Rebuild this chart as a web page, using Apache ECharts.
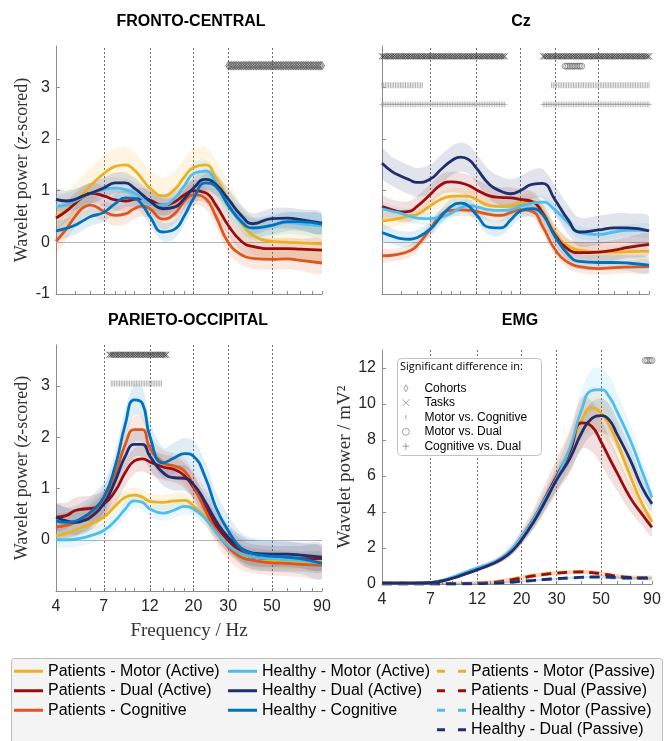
<!DOCTYPE html>
<html>
<head>
<meta charset="utf-8">
<script src="https://cdn.jsdelivr.net/npm/echarts@6/dist/echarts.min.js"></script>
<style>
  html, body { margin: 0; padding: 0; background: #fff; }
  #chart { width: 664px; height: 741px; }
</style>
</head>
<body>
<div id="chart"></div>
<script>
// frequency grid (Hz) the curves were read at
const freqs = [4, 4.5, 5, 5.5, 6, 7, 8, 9, 10, 11, 12, 14, 16, 18, 20, 23, 26, 30, 35, 40, 50, 60, 70, 90];
const emgFreqs = [4, 5, 6, 7, 8, 9, 10, 12, 14, 16, 18, 20, 23, 26, 30, 35, 40, 45, 50, 55, 60, 70, 80, 90];

// x axis ticks
const xLabelTicks = [4, 7, 12, 20, 30, 50, 90];
const xMinorTicks = [4, 5, 6, 7, 8, 9, 10, 12, 14, 16, 18, 20, 30, 40, 50, 60, 70, 80, 90];
const bandLines = [7, 12, 20, 30, 50];

// FRONTO-CENTRAL (z-scored)
const fcPatMotor = [0.5, 0.62, 0.78, 0.95, 1.1, 1.33, 1.47, 1.5, 1.4, 1.22, 1.05, 0.9, 1.02, 1.27, 1.45, 1.5, 1.25, 0.83, 0.38, 0.14, 0.02, 0.0, -0.01, -0.03];
const fcPatDual = [0.47, 0.6, 0.75, 0.88, 0.95, 0.9, 0.82, 0.8, 0.83, 0.85, 0.82, 0.72, 0.78, 0.92, 1.0, 0.96, 0.72, 0.33, 0.02, -0.08, -0.12, -0.12, -0.13, -0.15];
const fcPatCog = [0.02, 0.25, 0.5, 0.67, 0.72, 0.6, 0.52, 0.55, 0.65, 0.7, 0.65, 0.45, 0.55, 0.8, 0.92, 0.85, 0.5, 0.0, -0.24, -0.31, -0.33, -0.32, -0.35, -0.4];
const fcHeaMotor = [0.7, 0.72, 0.8, 0.88, 0.95, 1.02, 1.05, 1.02, 0.95, 0.85, 0.75, 0.72, 0.85, 1.1, 1.33, 1.38, 1.15, 0.75, 0.43, 0.27, 0.33, 0.38, 0.36, 0.32];
const fcHeaDual = [0.83, 0.8, 0.83, 0.9, 0.95, 1.05, 1.15, 1.15, 1.05, 0.92, 0.8, 0.65, 0.68, 0.85, 1.05, 1.22, 1.12, 0.84, 0.52, 0.36, 0.46, 0.47, 0.44, 0.37];
const fcHeaCog = [0.22, 0.27, 0.33, 0.42, 0.5, 0.58, 0.75, 0.86, 0.85, 0.72, 0.5, 0.2, 0.25, 0.52, 0.85, 1.15, 1.08, 0.72, 0.4, 0.28, 0.33, 0.4, 0.4, 0.35];
const fcCi = [0.35, 0.2, 0.2, 0.22, 0.2, 0.18];

// Cz (z-scored)
const czPatMotor = [0.41, 0.44, 0.47, 0.51, 0.54, 0.7, 0.84, 0.89, 0.9, 0.89, 0.83, 0.71, 0.69, 0.71, 0.76, 0.79, 0.6, 0.19, -0.07, -0.15, -0.19, -0.19, -0.18, -0.17];
const czPatDual = [0.69, 0.63, 0.59, 0.6, 0.69, 0.92, 1.12, 1.17, 1.15, 1.1, 1.02, 0.9, 0.87, 0.86, 0.83, 0.79, 0.57, 0.15, -0.13, -0.2, -0.19, -0.15, -0.1, -0.04];
const czPatCog = [-0.26, -0.25, -0.22, -0.17, -0.07, 0.25, 0.54, 0.62, 0.63, 0.62, 0.6, 0.54, 0.52, 0.58, 0.63, 0.6, 0.31, -0.13, -0.39, -0.47, -0.51, -0.49, -0.48, -0.47];
const czHeaMotor = [0.65, 0.6, 0.56, 0.51, 0.47, 0.46, 0.49, 0.57, 0.67, 0.71, 0.69, 0.63, 0.62, 0.63, 0.7, 0.76, 0.78, 0.63, 0.38, 0.19, 0.15, 0.2, 0.23, 0.23];
const czHeaDual = [1.53, 1.37, 1.28, 1.21, 1.16, 1.22, 1.42, 1.58, 1.65, 1.6, 1.44, 1.12, 0.99, 0.94, 1.0, 1.12, 1.14, 0.83, 0.44, 0.2, 0.24, 0.28, 0.28, 0.22];
const czHeaCog = [0.19, 0.12, 0.07, 0.06, 0.09, 0.25, 0.51, 0.7, 0.76, 0.7, 0.54, 0.29, 0.28, 0.44, 0.6, 0.65, 0.54, 0.12, -0.23, -0.37, -0.39, -0.39, -0.4, -0.44];
const czCi = [0.15, 0.2, 0.12, 0.12, 0.28, 0.15];

// PARIETO-OCCIPITAL (z-scored)
const poPatMotor = [0.08, 0.12, 0.18, 0.25, 0.31, 0.44, 0.66, 0.83, 0.87, 0.83, 0.75, 0.73, 0.76, 0.77, 0.66, 0.44, 0.18, -0.11, -0.3, -0.39, -0.41, -0.42, -0.43, -0.43];
const poPatDual = [0.44, 0.47, 0.57, 0.6, 0.61, 0.7, 0.95, 1.31, 1.54, 1.58, 1.52, 1.42, 1.37, 1.25, 1.02, 0.63, 0.28, -0.01, -0.24, -0.34, -0.37, -0.37, -0.37, -0.37];
const poPatCog = [0.25, 0.28, 0.34, 0.41, 0.5, 0.79, 1.28, 1.86, 2.15, 2.15, 1.79, 1.5, 1.44, 1.34, 1.05, 0.57, 0.18, -0.14, -0.34, -0.4, -0.45, -0.46, -0.48, -0.5];
const poHeaMotor = [0.0, 0.0, 0.01, 0.04, 0.08, 0.18, 0.37, 0.6, 0.76, 0.73, 0.6, 0.52, 0.58, 0.65, 0.6, 0.41, 0.15, -0.11, -0.27, -0.34, -0.37, -0.39, -0.4, -0.46];
const poHeaDual = [0.44, 0.37, 0.34, 0.37, 0.44, 0.7, 1.15, 1.63, 1.86, 1.86, 1.63, 1.31, 1.21, 1.2, 1.08, 0.73, 0.37, 0.05, -0.17, -0.26, -0.28, -0.28, -0.3, -0.34];
const poHeaCog = [0.37, 0.34, 0.36, 0.44, 0.54, 0.83, 1.44, 2.25, 2.73, 2.66, 2.02, 1.5, 1.6, 1.68, 1.63, 1.21, 0.63, 0.18, -0.17, -0.27, -0.32, -0.34, -0.37, -0.46];
const poCi = [0.15, 0.25, 0.25, 0.15, 0.25, 0.3];

// EMG (mV^2)
const emgPatMotor = [0.05, 0.05, 0.05, 0.08, 0.18, 0.33, 0.5, 0.82, 1.1, 1.42, 1.9, 2.55, 3.55, 4.6, 5.9, 7.5, 9.1, 9.8, 9.5, 8.8, 7.9, 6.0, 4.5, 3.45];
const emgPatDual = [0.05, 0.05, 0.05, 0.08, 0.18, 0.33, 0.5, 0.8, 1.1, 1.45, 1.95, 2.62, 3.62, 4.7, 6.0, 7.4, 8.95, 8.75, 7.9, 7.0, 6.2, 4.8, 3.9, 3.15];
const emgHeaMotor = [0.05, 0.05, 0.05, 0.08, 0.2, 0.38, 0.58, 0.9, 1.15, 1.48, 1.98, 2.62, 3.6, 4.65, 5.9, 7.6, 9.7, 10.75, 10.8, 10.4, 9.6, 8.0, 6.3, 4.8];
const emgHeaDual = [0.05, 0.05, 0.05, 0.07, 0.17, 0.32, 0.48, 0.8, 1.08, 1.4, 1.85, 2.45, 3.45, 4.5, 5.8, 7.0, 8.4, 9.2, 9.35, 9.1, 8.35, 6.9, 5.4, 4.45];
const emgRelCi = [0.12, 0.16, 0.11, 0.1];
const emgPatMotorPas = [0.0, 0.0, 0.0, 0.0, 0.0, 0.01, 0.02, 0.05, 0.1, 0.18, 0.27, 0.37, 0.48, 0.56, 0.62, 0.67, 0.68, 0.65, 0.58, 0.5, 0.43, 0.36, 0.34, 0.33];
const emgPatDualPas = [0.0, 0.0, 0.0, 0.0, 0.0, 0.01, 0.02, 0.04, 0.08, 0.15, 0.24, 0.33, 0.45, 0.53, 0.6, 0.65, 0.67, 0.63, 0.57, 0.5, 0.43, 0.36, 0.34, 0.33];
const emgHeaMotorPas = [0.0, 0.0, 0.0, 0.0, 0.0, 0.0, 0.01, 0.02, 0.04, 0.07, 0.1, 0.14, 0.19, 0.24, 0.28, 0.32, 0.35, 0.37, 0.37, 0.35, 0.33, 0.3, 0.3, 0.3];
const emgHeaDualPas = [0.05, 0.05, 0.05, 0.04, 0.02, 0.01, 0.01, 0.02, 0.04, 0.07, 0.11, 0.15, 0.2, 0.25, 0.3, 0.34, 0.38, 0.4, 0.4, 0.38, 0.36, 0.34, 0.33, 0.33];
const emgPasCi = [0.12, 0.12, 0.05, 0.05];

// significance: [from Hz, to Hz] ranges and the row level
const fcCohorts = [[29.5, 90]], fcCohortsLevel = 3.42;
const czTasks = [[4, 16.8], [26.2, 90]], czTasksLevel = 3.6;
const czMotorDual = [[33.6, 41.3]], czMotorDualLevel = 3.41;
const czMotorCog = [[4, 6.4], [28.5, 90]], czMotorCogLevel = 3.04;
const czCogDual = [[4, 16.8], [26.2, 90]], czCogDualLevel = 2.67;
const poTasks = [[7.4, 14.6]], poTasksLevel = 3.61;
const poMotorCog = [[7.5, 13.8]], poMotorCogLevel = 3.05;
const emgMotorDual = [[83, 90]], emgMotorDualLevel = 12.42;

const names = ['Patients - Motor (Active)', 'Patients - Dual (Active)', 'Patients - Cognitive',
  'Healthy - Motor (Active)', 'Healthy - Dual (Active)', 'Healthy - Cognitive'];
const pasNames = ['Patients - Motor (Passive)', 'Patients - Dual (Passive)',
  'Healthy - Motor (Passive)', 'Healthy - Dual (Passive)'];
const colors = ['#EDB120', '#9C0C0C', '#E0561B', '#4DBEEE', '#1F2E6E', '#0072BD'];
const sigNames = ['Cohorts', 'Tasks', 'Motor vs. Cognitive', 'Motor vs. Dual', 'Cognitive vs. Dual'];

const axisGray = '#8c8c8c';
const sans = 'Liberation Sans';
const serif = 'Liberation Serif';

// analysis frequency bins, used to place the significance markers
const nBins = 160;
const sigBins = [];
for (let i = 0; i < nBins; i++) sigBins.push(4 * Math.pow(90 / 4, i / (nBins - 1)));

function band(xi, fx, lo, hi, color) {
  const pts = fx.map((f, i) => [f, lo[i], hi[i]]);
  return {
    type: 'custom', xAxisIndex: xi, yAxisIndex: xi, silent: true, clip: true, z: 1,
    data: pts, encode: { x: 0, y: [1, 2] },
    renderItem(params, api) {
      if (params.dataIndex !== 0) return null;
      const up = pts.map(p => api.coord([p[0], p[2]]));
      const dn = pts.map(p => api.coord([p[0], p[1]])).reverse();
      return {
        type: 'polygon',
        shape: { points: up.concat(dn), smooth: 0.35 },
        style: { fill: color, opacity: 0.13 }
      };
    }
  };
}

function line(name, xi, fx, vals, color, dashed, markLine) {
  return {
    type: 'line', name, xAxisIndex: xi, yAxisIndex: xi, silent: true, z: 3, clip: true,
    data: fx.map((f, i) => [f, vals[i]]), smooth: 0.5, symbol: 'none',
    lineStyle: { color, width: 2.8, type: dashed ? [10, 6] : 'solid' },
    itemStyle: { color }, markLine
  };
}

function guides(withZero) {
  const data = bandLines.map(v => ({ xAxis: v, lineStyle: { type: [2, 2], color: '#6e6e6e', width: 1 } }));
  if (withZero) data.push({ yAxis: 0, lineStyle: { type: 'solid', color: '#b4b4b4', width: 1 } });
  return { silent: true, symbol: 'none', z: 1, label: { show: false }, animation: false, data };
}

const sigIcons = {
  'Cohorts': 'path://M5,0L9,7L5,14L1,7Z',
  'Tasks': 'path://M0,0L10,10M10,0L0,10',
  'Motor vs. Cognitive': 'path://M0,0M5,2L5,8M10,10',
  'Motor vs. Dual': 'circle',
  'Cognitive vs. Dual': 'path://M5,0L5,10M0,5L10,5'
};
const sigStyle = {
  'Cohorts': { symbol: 'diamond', symbolSize: [5, 8], itemStyle: { color: 'rgba(0,0,0,0)', borderColor: '#4a4a4a', borderWidth: 0.9 } },
  'Tasks': { symbol: sigIcons['Tasks'], symbolSize: 6, itemStyle: { color: 'rgba(0,0,0,0)', borderColor: '#3a3a3a', borderWidth: 1 } },
  'Motor vs. Cognitive': { symbol: 'rect', symbolSize: [1, 6], itemStyle: { color: '#a0a0a0' } },
  'Motor vs. Dual': { symbol: 'circle', symbolSize: 6, itemStyle: { color: 'rgba(0,0,0,0)', borderColor: '#6a6a6a', borderWidth: 0.8 } },
  'Cognitive vs. Dual': { symbol: sigIcons['Cognitive vs. Dual'], symbolSize: 6, itemStyle: { color: 'rgba(0,0,0,0)', borderColor: '#a0a0a0', borderWidth: 0.8 } }
};

function sig(name, xi, ranges, level) {
  const data = [];
  ranges.forEach(([a, b]) => sigBins.forEach(f => { if (f >= a - 0.01 && f <= b + 0.01) data.push([f, level]); }));
  return Object.assign({ type: 'scatter', name, xAxisIndex: xi, yAxisIndex: xi, silent: true, z: 4, data }, sigStyle[name]);
}

const series = [];
const eegPanels = [
  { xi: 0, data: [fcPatMotor, fcPatDual, fcPatCog, fcHeaMotor, fcHeaDual, fcHeaCog], ci: fcCi },
  { xi: 1, data: [czPatMotor, czPatDual, czPatCog, czHeaMotor, czHeaDual, czHeaCog], ci: czCi },
  { xi: 2, data: [poPatMotor, poPatDual, poPatCog, poHeaMotor, poHeaDual, poHeaCog], ci: poCi }
];
eegPanels.forEach(p => {
  p.data.forEach((vals, k) => series.push(band(p.xi, freqs,
    vals.map(v => v - p.ci[k]), vals.map(v => v + p.ci[k]), colors[k])));
  p.data.forEach((vals, k) => series.push(line(names[k], p.xi, freqs, vals, colors[k], false,
    k === 0 ? guides(true) : undefined)));
});

const emgActive = [emgPatMotor, emgPatDual, emgHeaMotor, emgHeaDual];
const emgPassive = [emgPatMotorPas, emgPatDualPas, emgHeaMotorPas, emgHeaDualPas];
const emgIdx = [0, 1, 3, 4];
emgPassive.forEach((vals, k) => series.push(band(3, emgFreqs,
  vals.map(v => Math.max(0, v - emgPasCi[k])), vals.map(v => v + emgPasCi[k]), colors[emgIdx[k]])));
emgActive.forEach((vals, k) => series.push(band(3, emgFreqs,
  vals.map(v => v * (1 - emgRelCi[k])), vals.map(v => v * (1 + emgRelCi[k])), colors[emgIdx[k]])));
emgPassive.forEach((vals, k) => series.push(line(pasNames[k], 3, emgFreqs, vals, colors[emgIdx[k]], true)));
emgActive.forEach((vals, k) => series.push(line(names[emgIdx[k]], 3, emgFreqs, vals, colors[emgIdx[k]], false,
  k === 0 ? guides(false) : undefined)));

series.push(sig('Cohorts', 0, fcCohorts, fcCohortsLevel));
series.push(sig('Tasks', 1, czTasks, czTasksLevel));
series.push(sig('Motor vs. Dual', 1, czMotorDual, czMotorDualLevel));
series.push(sig('Motor vs. Cognitive', 1, czMotorCog, czMotorCogLevel));
series.push(sig('Cognitive vs. Dual', 1, czCogDual, czCogDualLevel));
series.push(sig('Tasks', 2, poTasks, poTasksLevel));
series.push(sig('Motor vs. Cognitive', 2, poMotorCog, poMotorCogLevel));
series.push(sig('Motor vs. Dual', 3, emgMotorDual, emgMotorDualLevel));

function xAxis(i, showLabels, name) {
  return {
    type: 'log', logBase: 10, gridIndex: i, min: 4, max: 90,
    name, nameLocation: 'middle', nameGap: 31,
    nameTextStyle: { fontFamily: serif, fontSize: 19, color: '#333' },
    axisLine: { show: true, onZero: false, lineStyle: { color: axisGray, width: 1 } },
    axisTick: { show: true, inside: true, length: 3, customValues: xMinorTicks, lineStyle: { color: axisGray } },
    axisLabel: { show: showLabels, customValues: xLabelTicks, fontFamily: sans, fontSize: 16, color: '#262626', margin: 8 },
    minorTick: { show: false }, splitLine: { show: false }
  };
}

const zName = 'Wavelet power ({i|z}-scored)';
const nameStyle = {
  fontFamily: serif, fontSize: 18, color: '#333',
  rich: { i: { fontFamily: serif, fontSize: 18, fontStyle: 'italic', color: '#333' } }
};
const emgNameStyle = { fontFamily: serif, fontSize: 19, color: '#333' };

function yAxis(i, min, max, ticks, labels, name, gap, nStyle) {
  return {
    type: 'value', gridIndex: i, min, max,
    name, nameLocation: 'middle', nameGap: gap, nameTextStyle: nStyle || nameStyle,
    axisLine: { show: true, onZero: false, lineStyle: { color: axisGray, width: 1 } },
    axisTick: { show: true, inside: true, length: 4, customValues: ticks, lineStyle: { color: axisGray } },
    axisLabel: { show: labels.length > 0, customValues: labels, fontFamily: sans, fontSize: 16, color: '#262626', margin: 6 },
    splitLine: { show: false }
  };
}

const zTicks = [-1, 0, 1, 2, 3];
const emgTicks = [0, 2, 4, 6, 8, 10, 12];

const titleStyle = (text, x, y) => ({
  type: 'text', x, y, silent: true,
  style: { text, fontFamily: sans, fontWeight: 'bold', fontSize: 16, fill: '#000', textAlign: 'center', textVerticalAlign: 'middle' }
});

const solidIcon = 'path://M0,0H29V3H0Z';
const dashIcon = 'path://M0,0H8V3H0ZM21,0H29V3H21Z';
const mainLegend = {
  selectedMode: false, z: 110, itemGap: 0, itemWidth: 29, itemHeight: 3, padding: 0, orient: 'vertical',
  textStyle: { fontFamily: sans, fontSize: 16, lineHeight: 19.5, color: '#000' }
};

const option = {
  animation: false,
  backgroundColor: '#fff',
  grid: [
    { left: 56, top: 46, width: 266, height: 248, outerBoundsMode: 'none' },
    { left: 382, top: 46, width: 267, height: 248, outerBoundsMode: 'none' },
    { left: 56, top: 345, width: 266, height: 246, outerBoundsMode: 'none' },
    { left: 382, top: 350, width: 270, height: 234, outerBoundsMode: 'none' }
  ],
  xAxis: [xAxis(0, false), xAxis(1, false), xAxis(2, true, 'Frequency / Hz'), xAxis(3, true)],
  yAxis: [
    yAxis(0, -1, 3.8, zTicks, zTicks, zName, 25),
    yAxis(1, -1, 3.8, zTicks, [], '', 0),
    yAxis(2, -1, 3.8, zTicks, [0, 1, 2, 3], zName, 25),
    yAxis(3, 0, 13, emgTicks, emgTicks, 'Wavelet power / mV²', 24, emgNameStyle)
  ],
  legend: [
    Object.assign({}, mainLegend, { left: 14, top: 661.5, data: names.slice(0, 3).map(name => ({ name, icon: solidIcon })) }),
    Object.assign({}, mainLegend, { left: 228, top: 661.5, data: names.slice(3, 6).map(name => ({ name, icon: solidIcon })) }),
    Object.assign({}, mainLegend, { left: 437, top: 661.5, data: pasNames.map(name => ({ name, icon: dashIcon })) }),
    {
      selectedMode: false, z: 110, itemGap: 0, padding: 0, orient: 'vertical',
      left: 402, top: 381, itemWidth: 7, itemHeight: 7,
      data: sigNames.map(name => ({ name, icon: sigIcons[name] })),
      itemStyle: { color: 'rgba(0,0,0,0)', borderColor: '#707070', borderWidth: 0.8 },
      textStyle: { fontFamily: sans, fontSize: 12, lineHeight: 14.5, color: '#000', padding: [0, 0, 0, 10] }
    }
  ],
  graphic: [
    titleStyle('FRONTO-CENTRAL', 191, 22),
    titleStyle('Cz', 521, 22),
    titleStyle('PARIETO-OCCIPITAL', 188, 321),
    titleStyle('EMG', 520, 321),
    {
      type: 'rect', z: 100, silent: true,
      shape: { x: 11.5, y: 658.5, width: 651, height: 100, r: 3 },
      style: { fill: '#f4f4f4', stroke: '#bdbdbd', lineWidth: 1 }
    },
    {
      type: 'rect', z: 100, silent: true,
      shape: { x: 397.5, y: 358.5, width: 144, height: 97, r: 4 },
      style: { fill: '#fff', stroke: '#c2c2c2', lineWidth: 1 }
    },
    {
      type: 'text', z: 101, silent: true, x: 400, y: 367,
      style: { text: 'Significant difference in:', fontFamily: 'Open Sans', fontSize: 11, fill: '#000', textVerticalAlign: 'middle' }
    }
  ],
  series
};

const chart = echarts.init(document.getElementById('chart'), null, { renderer: 'canvas' });
chart.setOption(option);
</script>
</body>
</html>
